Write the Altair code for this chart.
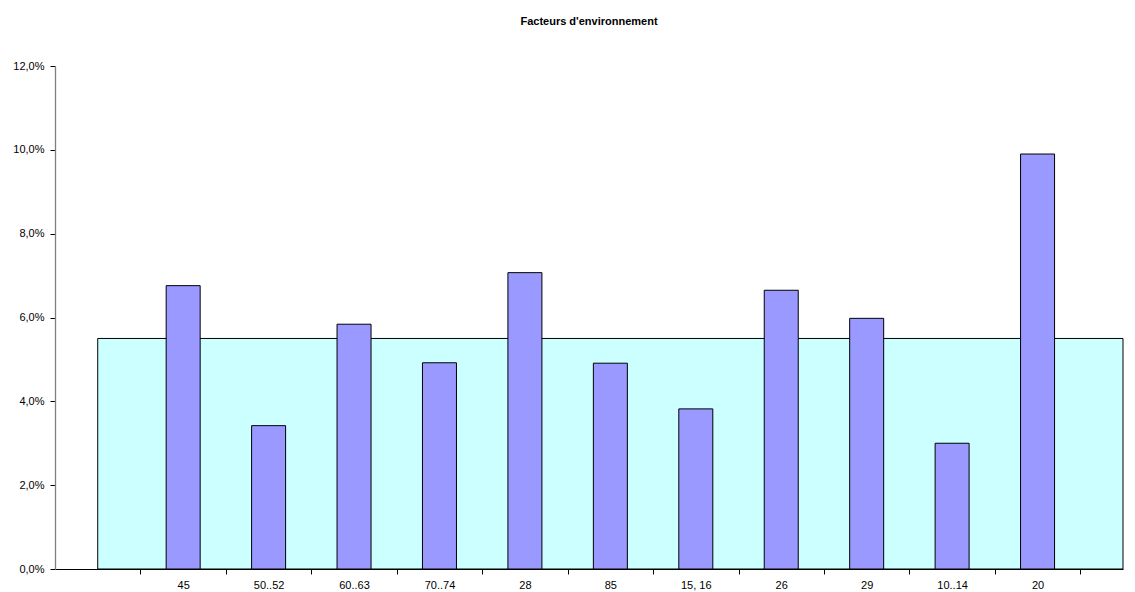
import json
import altair as alt
import pandas as pd

# ---- data ----
categories = ["45", "50..52", "60..63", "70..74", "28", "85", "15, 16", "26", "29", "10..14", "20"]
values_pct = [6.76, 3.42, 5.84, 4.92, 7.07, 4.91, 3.82, 6.65, 5.98, 3.00, 9.90]
reference_level_pct = 5.5
y_ticks_pct = [0, 2, 4, 6, 8, 10, 12]

# category slot k (1-based) occupies [k, k+1] on the numeric axis; slot 0 is empty
slot_first = 1
band_start = 0.5
band_end = 12.5
axis_max = 12.5

bars_df = pd.DataFrame({
    "cat": categories,
    "pos": [slot_first + i + 0.5 for i in range(len(categories))],
    "val": [v / 100 for v in values_pct],
})
band_df = pd.DataFrame({
    "x": [band_start],
    "x2": [band_end],
    "y": [reference_level_pct / 100],
    "y2": [0.0],
})

tick_vals = [k for k in range(slot_first, len(categories) + 2)]
label_vals = [slot_first + i + 0.5 for i in range(len(categories))]
x_values = sorted(tick_vals + label_vals)

cat_js = json.dumps(categories)
x_label_expr = f"datum.value % 1 === 0 ? '' : {cat_js}[floor(datum.value) - {slot_first}]"

x_axis = alt.Axis(
    values=x_values,
    labelExpr=x_label_expr,
    title=None,
    grid=False,
    domainColor="#000000",
    domainWidth=1,
    tickColor="#000000",
    tickSize=5,
    tickOpacity={"condition": {"test": "datum.value % 1 === 0", "value": 1}, "value": 0},
    labelOverlap=False,
    labelFlush=False,
    labelPadding=5,
    labelFontSize=11,
    labelColor="#000000",
    labelFont="Liberation Sans",
)
y_axis = alt.Axis(
    values=[t / 100 for t in y_ticks_pct],
    labelExpr="replace(format(datum.value, '.1%'), '.', ',')",
    title=None,
    grid=False,
    domainColor="#808080",
    domainWidth=1.3,
    tickColor="#000000",
    tickSize=5,
    labelPadding=6,
    labelFontSize=11,
    labelColor="#000000",
    labelFont="Liberation Sans",
)

x_scale = alt.Scale(domain=[0, axis_max], nice=False, zero=False, padding=0)
y_scale = alt.Scale(domain=[0, y_ticks_pct[-1] / 100], nice=False, padding=0)

band = alt.Chart(band_df).mark_rect(
    fill="#CCFFFF", stroke="#000000", strokeWidth=1
).encode(
    x=alt.X("x:Q", scale=x_scale, axis=x_axis),
    x2="x2:Q",
    y=alt.Y("y:Q", scale=y_scale, axis=y_axis),
    y2="y2:Q",
)

bars = alt.Chart(bars_df).mark_bar(
    size=34, fill="#9999FF", stroke="#000000", strokeWidth=1
).encode(
    x=alt.X("pos:Q", scale=x_scale, axis=x_axis),
    y=alt.Y("val:Q", scale=y_scale, axis=y_axis),
    tooltip=["cat:N", alt.Tooltip("val:Q", format=".1%")],
)

chart = alt.layer(band, bars).properties(
    width=1068,
    height=503,
    title=alt.TitleParams(
        "Facteurs d'environnement",
        fontSize=11,
        fontWeight="bold",
        font="Liberation Sans",
        color="#000000",
        anchor="middle",
        offset=33,
    ),
    autosize=alt.AutoSizeParams(type="none"),
    padding={"left": 47, "top": 58, "right": 4, "bottom": 23},
).configure(
    font="Liberation Sans",
    view=alt.ViewConfig(stroke="transparent", strokeWidth=0),
)

chart.save("out.html", embed_options={"renderer": "svg", "actions": False})
